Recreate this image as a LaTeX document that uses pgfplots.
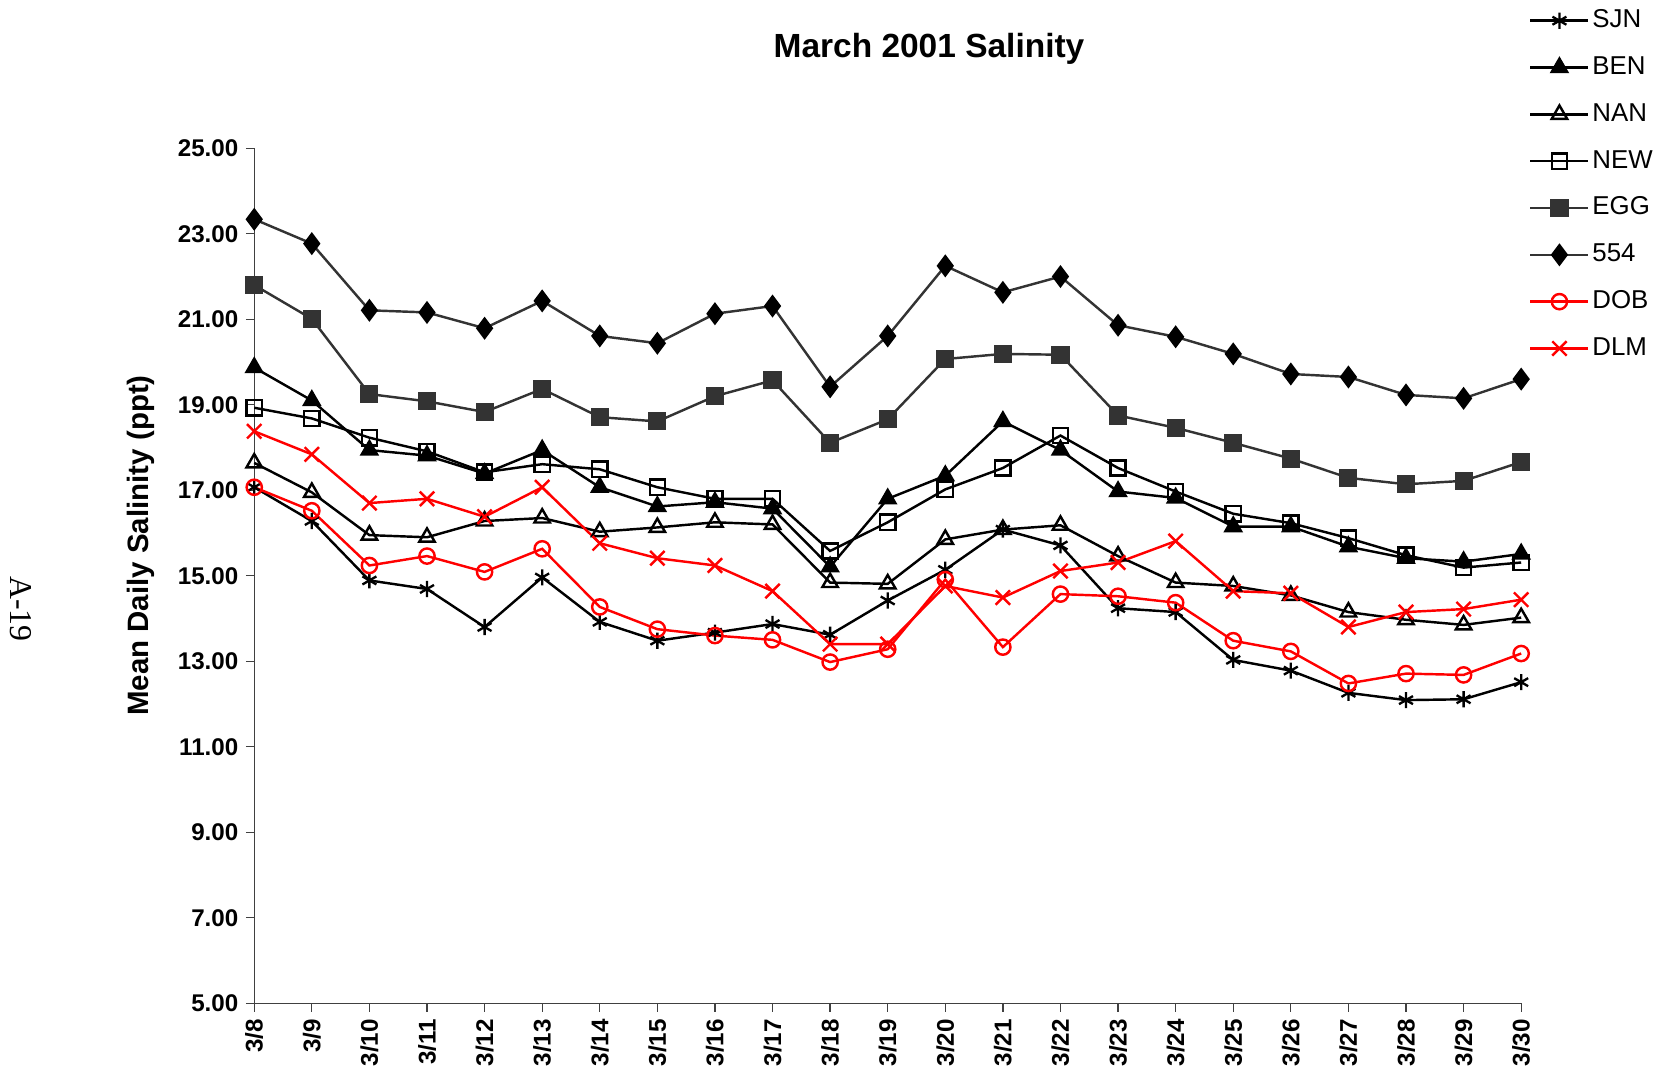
\documentclass[border=0pt]{standalone}
\usepackage{fontspec}
\setmainfont{Liberation Sans}
\newfontfamily\seriffont{Liberation Serif}
\usepackage{pgfplots}
\usepackage{pgfplotstable}
\pgfplotsset{compat=1.18}
\usetikzlibrary{plotmarks}
\definecolor{dgray}{HTML}{333333}
\pgfplotstableread{
x SJN BEN NAN NEW EGG S554 DOB DLM
0 17.07 19.87 17.64 18.93 21.80 23.34 17.07 18.38
1 16.28 19.10 16.95 18.68 21.01 22.77 16.52 17.84
2 14.89 17.94 15.95 18.23 19.25 21.21 15.24 16.70
3 14.69 17.81 15.90 17.91 19.08 21.16 15.46 16.80
4 13.80 17.39 16.28 17.42 18.83 20.79 15.09 16.38
5 14.96 17.94 16.35 17.61 19.37 21.43 15.63 17.07
6 13.92 17.07 16.03 17.49 18.71 20.61 14.27 15.76
7 13.48 16.62 16.13 17.07 18.61 20.44 13.75 15.41
8 13.67 16.72 16.25 16.80 19.20 21.13 13.60 15.24
9 13.87 16.57 16.20 16.80 19.57 21.31 13.50 14.64
10 13.62 15.21 14.84 15.58 18.11 19.42 12.98 13.40
11 14.42 16.80 14.81 16.25 18.66 20.61 13.28 13.40
12 15.14 17.34 15.85 17.02 20.07 22.25 14.91 14.76
13 16.08 18.61 16.08 17.52 20.19 21.63 13.33 14.49
14 15.71 17.94 16.18 18.28 20.17 22.00 14.57 15.11
15 14.24 16.97 15.46 17.52 18.75 20.86 14.52 15.31
16 14.15 16.82 14.84 16.97 18.46 20.59 14.37 15.81
17 13.03 16.15 14.76 16.45 18.11 20.19 13.48 14.64
18 12.78 16.15 14.54 16.23 17.74 19.72 13.23 14.59
19 12.26 15.68 14.15 15.88 17.29 19.65 12.48 13.80
20 12.09 15.41 13.97 15.48 17.14 19.23 12.71 14.15
21 12.11 15.33 13.85 15.19 17.22 19.15 12.68 14.22
22 12.51 15.51 14.02 15.31 17.66 19.60 13.18 14.44
}\data
\begin{document}
\begin{tikzpicture}
\path[use as bounding box] (0,0) rectangle (784pt,506.5pt);
\begin{axis}[
  at={(120pt,33pt)}, anchor=south west,
  scale only axis, width=598pt, height=403.5pt,
  xmin=0, xmax=22, ymin=5, ymax=25,
  axis lines=left,
  axis line style={-, black!75, line width=0.6pt},
  clip=false,
  xtick={0,...,22},
  xticklabels={3/8,3/9,3/10,3/11,3/12,3/13,3/14,3/15,3/16,3/17,3/18,3/19,3/20,3/21,3/22,3/23,3/24,3/25,3/26,3/27,3/28,3/29,3/30},
  ytick={5,7,...,25},
  tick align=outside,
  major tick length=4pt,
  tick style={black!75, line width=0.6pt},
  xticklabel style={rotate=90, anchor=east, font=\fontsize{11.4}{13}\selectfont\bfseries},
  yticklabel style={font=\fontsize{11.4}{13}\selectfont\bfseries},
  /pgf/number format/.cd, fixed, fixed zerofill, precision=2, assume math mode=true,
  /pgfplots/.cd,
  every axis plot/.append style={line width=1.15pt},
  legend style={at={(1.006,1.164)}, anchor=north west, draw=none, fill=none,
    font=\fontsize{12.2}{14}\selectfont, inner sep=0pt,
    nodes={inner sep=0pt, text height=9pt, text depth=2.5pt},
    row sep=10.6pt, cells={anchor=west},
    /tikz/every odd column/.append style={column sep=1.3pt}},
  legend image code/.code={\draw[mark repeat=2,mark phase=2] plot coordinates {(0pt,0pt)(13.7pt,0pt)(27.4pt,0pt)};},
]
\addplot[black, mark=asterisk, mark size=3.8pt, mark options={line width=1.1pt}] table[x=x,y=SJN] {\data};
\addlegendentry{SJN}
\addplot[black, mark=triangle*, mark size=4.2pt, mark options={fill=black}] table[x=x,y=BEN] {\data};
\addlegendentry{BEN}
\addplot[black, mark=triangle, mark size=4.2pt, mark options={fill=white}] table[x=x,y=NAN] {\data};
\addlegendentry{NAN}
\addplot[black, mark=square, mark size=3.6pt, mark options={fill=white}] table[x=x,y=NEW] {\data};
\addlegendentry{NEW}
\addplot[dgray, mark=square*, mark size=3.7pt, mark options={fill=dgray, draw=dgray}] table[x=x,y=EGG] {\data};
\addlegendentry{EGG}
\addplot[dgray, mark=diamond*, mark size=4.5pt, mark options={fill=black, draw=black}] table[x=x,y=S554] {\data};
\addlegendentry{554}
\addplot[red, mark=o, mark size=3.6pt, mark options={fill=white}] table[x=x,y=DOB] {\data};
\addlegendentry{DOB}
\addplot[red, mark=x, mark size=4.8pt] table[x=x,y=DLM] {\data};
\addlegendentry{DLM}
\end{axis}
\node[font=\fontsize{15.8}{18}\selectfont\bfseries] at (438.5pt,483.5pt) {March 2001 Salinity};
\node[rotate=90, font=\fontsize{13.9}{16}\selectfont\bfseries] at (66.5pt,249pt) {Mean Daily Salinity (ppt)};
\node[rotate=-90, font=\seriffont\fontsize{15}{17}\selectfont] at (10pt,219pt) {A-19};
\end{tikzpicture}
\end{document}
